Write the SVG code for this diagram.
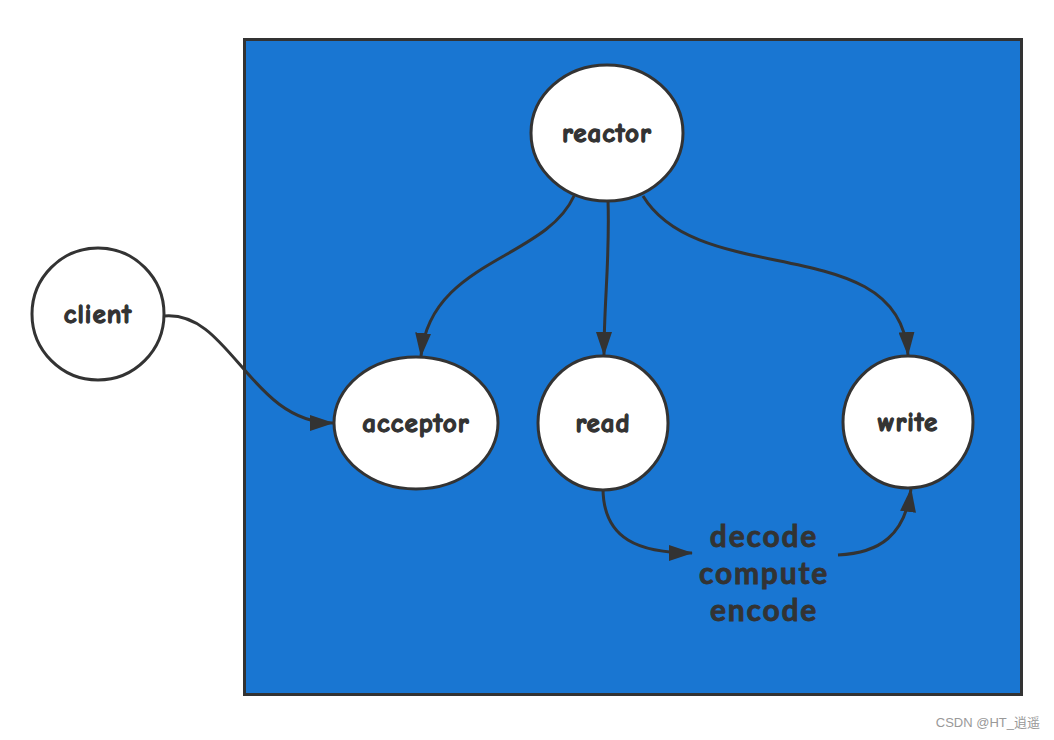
<svg xmlns="http://www.w3.org/2000/svg" width="1054" height="740" viewBox="0 0 1054 740">
<style>
.node ellipse{fill:#fff;stroke:#333;stroke-width:3}
.node text{font-family:"Comic Neue","Lato","Liberation Sans",sans-serif;font-weight:bold;font-size:27px;letter-spacing:1px;fill:#333;stroke:#333;stroke-width:1.3;text-anchor:middle;dominant-baseline:central}
.edge{fill:none;stroke:#333;stroke-width:3}
.lbl{font-family:"Lato","Liberation Sans",sans-serif;font-weight:bold;font-size:30px;letter-spacing:1.8px;fill:#333;stroke:#333;stroke-width:0.8;text-anchor:middle}
</style>
<defs><marker id="a" viewBox="0 0 24 16" refX="23" refY="8" markerWidth="24" markerHeight="16" markerUnits="userSpaceOnUse" orient="auto"><path d="M0,0 L24,8 L0,16 z" fill="#333"/></marker></defs>
<rect width="1054" height="740" fill="#fff"/>
<rect id="frame" x="244.5" y="39.5" width="777" height="655" fill="#1976d2" stroke="#333" stroke-width="3"/>
<g id="connectors">
<path class="edge" marker-end="url(#a)" d="M574,196 C545,260 430,260 421,356"/>
<path class="edge" marker-end="url(#a)" d="M608,200 C610,260 604,300 604,355"/>
<path class="edge" marker-end="url(#a)" d="M643,196 C700,290 900,230 908,355"/>
<path class="edge" marker-end="url(#a)" d="M164,316 C230,310 250,423 333,423"/>
<path class="edge" marker-end="url(#a)" d="M603,488 C603,540 640,553 692,553"/>
<path class="edge" marker-end="url(#a)" d="M838,555 C880,553 905,535 911,489"/>
</g>
<g id="reactor" class="node"><ellipse cx="607" cy="133" rx="76" ry="68"/><text x="607" y="133">reactor</text></g>
<g id="client" class="node"><ellipse cx="98" cy="314" rx="66" ry="66"/><text x="98" y="314">client</text></g>
<g id="acceptor" class="node"><ellipse cx="416" cy="423" rx="82" ry="66"/><text x="416" y="423">acceptor</text></g>
<g id="read" class="node"><ellipse cx="603" cy="423" rx="65" ry="67"/><text x="603" y="423">read</text></g>
<g id="write" class="node"><ellipse cx="908" cy="422" rx="65" ry="66"/><text x="908" y="422">write</text></g>
<g id="label">
<text class="lbl" x="764" y="547">decode</text>
<text class="lbl" x="764" y="584">compute</text>
<text class="lbl" x="764" y="621">encode</text>
</g>
<text x="1040" y="727" text-anchor="end" font-family="Liberation Sans, Noto Sans CJK SC, sans-serif" font-size="13" fill="#999">CSDN @HT_逍遥</text>
</svg>
